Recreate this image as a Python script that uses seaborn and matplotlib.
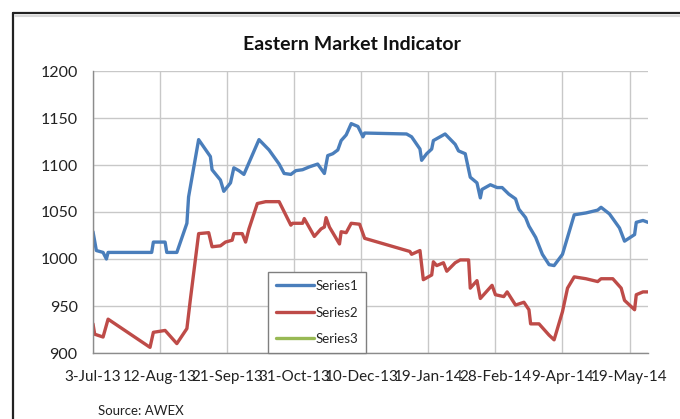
import pandas as pd
import matplotlib.pyplot as plt
import matplotlib.dates as mdates
from matplotlib.lines import Line2D
import seaborn as sns

# Series1 (blue) - dates and index values
series1_dates = [
    "2013-07-03", "2013-07-05", "2013-07-09", "2013-07-11", "2013-07-12",
    "2013-08-07", "2013-08-08", "2013-08-15", "2013-08-16", "2013-08-22",
    "2013-08-28", "2013-08-29", "2013-09-04", "2013-09-11", "2013-09-12",
    "2013-09-17", "2013-09-19", "2013-09-23", "2013-09-25", "2013-09-28",
    "2013-10-01", "2013-10-10", "2013-10-16", "2013-10-22", "2013-10-25",
    "2013-10-29", "2013-11-01", "2013-11-05", "2013-11-09", "2013-11-14",
    "2013-11-18", "2013-11-20", "2013-11-23", "2013-11-26", "2013-11-28",
    "2013-12-01", "2013-12-04", "2013-12-08", "2013-12-11", "2013-12-12",
    "2014-01-06", "2014-01-09", "2014-01-14", "2014-01-15", "2014-01-18",
    "2014-01-21", "2014-01-22", "2014-01-29", "2014-02-04", "2014-02-06",
    "2014-02-10", "2014-02-13", "2014-02-17", "2014-02-19", "2014-02-20",
    "2014-02-25", "2014-03-01", "2014-03-04", "2014-03-08", "2014-03-12",
    "2014-03-14", "2014-03-18", "2014-03-20", "2014-03-24", "2014-03-28",
    "2014-04-01", "2014-04-04", "2014-04-09", "2014-04-16", "2014-04-23",
    "2014-04-30", "2014-05-02", "2014-05-07", "2014-05-13", "2014-05-16",
    "2014-05-22", "2014-05-23", "2014-05-27", "2014-05-30",
]
series1_values = [
    1029, 1009, 1007, 1000, 1007,
    1007, 1018, 1018, 1007, 1007,
    1038, 1066, 1127, 1109, 1095,
    1084, 1072, 1081, 1097, 1094,
    1090, 1127, 1116, 1101, 1091,
    1090, 1094, 1095, 1098, 1101,
    1091, 1110, 1112, 1116, 1126,
    1132, 1144, 1141, 1130, 1134,
    1133, 1130, 1117, 1105, 1112,
    1117, 1126, 1133, 1122, 1115,
    1112, 1087, 1081, 1065, 1074,
    1079, 1076, 1076, 1069, 1064,
    1053, 1044, 1035, 1023, 1005,
    994, 993, 1005, 1047, 1049,
    1052, 1055, 1048, 1033, 1019,
    1026, 1039, 1041, 1039,
]

# Series2 (red)
series2_dates = [
    "2013-07-03", "2013-07-04", "2013-07-09", "2013-07-12", "2013-08-06",
    "2013-08-08", "2013-08-15", "2013-08-22", "2013-08-28", "2013-08-30",
    "2013-09-04", "2013-09-10", "2013-09-12", "2013-09-17", "2013-09-20",
    "2013-09-24", "2013-09-25", "2013-09-30", "2013-10-02", "2013-10-04",
    "2013-10-09", "2013-10-14", "2013-10-22", "2013-10-29", "2013-10-30",
    "2013-11-05", "2013-11-06", "2013-11-12", "2013-11-16", "2013-11-18",
    "2013-11-19", "2013-11-21", "2013-11-27", "2013-11-28", "2013-12-01",
    "2013-12-04", "2013-12-09", "2013-12-12", "2014-01-08", "2014-01-09",
    "2014-01-14", "2014-01-16", "2014-01-21", "2014-01-22", "2014-01-24",
    "2014-01-28", "2014-01-30", "2014-02-04", "2014-02-07", "2014-02-12",
    "2014-02-13", "2014-02-16", "2014-02-17", "2014-02-19", "2014-02-26",
    "2014-02-28", "2014-03-05", "2014-03-07", "2014-03-12", "2014-03-17",
    "2014-03-20", "2014-03-21", "2014-03-26", "2014-04-01", "2014-04-04",
    "2014-04-09", "2014-04-12", "2014-04-16", "2014-04-23", "2014-04-30",
    "2014-05-02", "2014-05-09", "2014-05-14", "2014-05-16", "2014-05-22",
    "2014-05-23", "2014-05-27", "2014-05-30",
]
series2_values = [
    931, 920, 917, 936, 906,
    922, 924, 910, 926, 956,
    1027, 1028, 1013, 1014, 1018,
    1020, 1027, 1027, 1018, 1032,
    1059, 1061, 1061, 1036, 1038,
    1038, 1043, 1024, 1032, 1034,
    1044, 1034, 1016, 1029, 1028,
    1038, 1037, 1022, 1008, 1005,
    1009, 978, 983, 997, 993,
    996, 987, 996, 999, 999,
    969, 975, 977, 958, 972,
    962, 960, 965, 951, 954,
    946, 931, 931, 919, 914,
    944, 969, 981, 979, 976,
    979, 979, 969, 956, 946,
    962, 965, 965,
]

tick_dates = [
    "2013-07-03", "2013-08-12", "2013-09-21", "2013-10-31", "2013-12-10",
    "2014-01-19", "2014-02-28", "2014-04-09", "2014-05-19",
]
y_ticks = [900, 950, 1000, 1050, 1100, 1150, 1200]

series_names = ["Series1", "Series2", "Series3"]
series_colors = ["#4a7ebb", "#be4b48", "#98b954"]

# long format table for seaborn
df = pd.concat(
    [
        pd.DataFrame({"date": pd.to_datetime(series1_dates), "value": series1_values, "series": "Series1"}),
        pd.DataFrame({"date": pd.to_datetime(series2_dates), "value": series2_values, "series": "Series2"}),
    ],
    ignore_index=True,
)

sns.set_style("white")
plt.rcParams["font.family"] = ["Lato", "DejaVu Sans"]

fig = plt.figure(figsize=(6.8, 4.19), dpi=100)
ax = fig.add_axes([93 / 680, 1 - 353 / 419, 555 / 680, 282 / 419])

sns.lineplot(
    data=df,
    x="date",
    y="value",
    hue="series",
    hue_order=series_names[:2],
    palette=series_colors[:2],
    linewidth=2.4,
    estimator=None,
    legend=False,
    ax=ax,
)
# Series3 has no data, it only shows up in the legend
ax.plot([], [], color=series_colors[2], linewidth=2.4)

# axes styling (Excel look)
ax.set_ylim(900, 1200)
ax.set_yticks(y_ticks)
ax.set_xlim(pd.Timestamp(series1_dates[0]), pd.Timestamp(series1_dates[-1]))
ax.set_xticks(pd.to_datetime(tick_dates))
ax.xaxis.set_major_formatter(mdates.DateFormatter("%-d-%b-%y"))
ax.set_xlabel("")
ax.set_ylabel("")
ax.grid(True, color="#c8c8c8", linewidth=1.0)
ax.set_axisbelow(True)
for side in ["top", "right"]:
    ax.spines[side].set_visible(False)
for side in ["left", "bottom"]:
    ax.spines[side].set_color("#8c8c8c")
    ax.spines[side].set_linewidth(1.0)
ax.tick_params(axis="both", length=4, width=1, color="#8c8c8c", labelcolor="#222222")
ax.tick_params(axis="x", labelsize=11, pad=8)
ax.tick_params(axis="y", labelsize=11.5, pad=7)

handles = [Line2D([], [], color=c, linewidth=2.4) for c in series_colors]
leg = ax.legend(
    handles,
    series_names,
    loc="lower left",
    bbox_to_anchor=(0.315, 0.0),
    borderaxespad=0,
    fontsize=9.5,
    frameon=True,
    fancybox=False,
    framealpha=1,
    edgecolor="#7f7f7f",
    handlelength=2.9,
    handletextpad=0.1,
    labelspacing=1.1,
    borderpad=0.6,
)
leg.get_frame().set_linewidth(1.0)

fig.text(352 / 680, 1 - 45 / 419, "Eastern Market Indicator",
         ha="center", va="center", fontsize=14, fontweight="bold", color="#111111")
fig.text(98 / 680, 1 - 411 / 419, "Source: AWEX",
         ha="left", va="center", fontsize=9.5, color="#222222")

# outer chart border (top and left edges visible in the crop)
fig.add_artist(Line2D([13 / 680, 1], [1 - 13 / 419, 1 - 13 / 419], color="#222222", linewidth=1.6))
fig.add_artist(Line2D([13 / 680, 13 / 680], [0, 1 - 13 / 419], color="#222222", linewidth=1.6))
fig.add_artist(Line2D([15 / 680, 1], [1 - 16.5 / 419, 1 - 16.5 / 419], color="#d8d8d8", linewidth=1.5))

fig.savefig("out.png", dpi=100)
